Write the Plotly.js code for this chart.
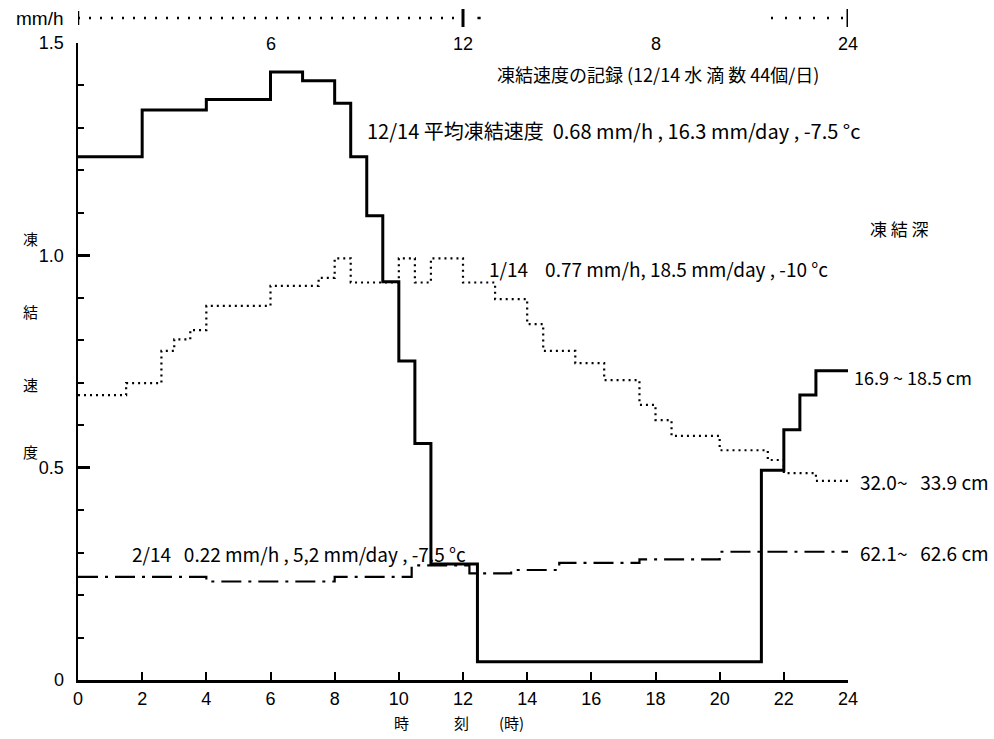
<!DOCTYPE html>
<html>
<head>
<meta charset="utf-8">
<script src="https://cdn.plot.ly/plotly-3.0.1.min.js"></script>
<style>html,body{margin:0;padding:0;background:#fff;}#chart{width:994px;height:739px;}</style>
</head>
<body>
<div id="chart"></div>
<script>
// ---- data (hours, freezing rate mm/h) ----
const solidX = [0, 2, 4, 6, 7, 8, 8.5, 9, 9.5, 10, 10.5, 11, 12.45, 21.3, 22, 22.5, 23, 24];
const solidY = [1.232, 1.342, 1.367, 1.432, 1.411, 1.358, 1.232, 1.093, 0.938, 0.751, 0.557, 0.273, 0.043, 0.494, 0.589, 0.671, 0.728, 0.728];

const dotX = [0, 1.5, 2.6, 3, 3.5, 4, 6, 7.5, 8, 8.5, 10, 10.5, 11, 12, 13, 14, 14.5, 15.5, 16.4, 17.5, 18, 18.5, 20, 21.5, 22, 23, 24];
const dotY = [0.671, 0.699, 0.775, 0.802, 0.824, 0.881, 0.928, 0.947, 0.993, 0.936, 0.993, 0.936, 0.993, 0.936, 0.897, 0.838, 0.775, 0.746, 0.706, 0.648, 0.612, 0.575, 0.541, 0.518, 0.487, 0.469, 0.469];

const dashX = [0, 4, 8, 10.4, 12.2, 13.5, 15, 17.5, 20, 24];
const dashY = [0.243, 0.232, 0.243, 0.27, 0.251, 0.259, 0.276, 0.284, 0.302, 0.302];

const xTickVals = [0, 2, 4, 6, 8, 10, 12, 14, 16, 18, 20, 22, 24];
const xTickText = ['0', '2', '4', '6', '8', '10', '12', '14', '16', '18', '20', '22', '24'];
const yTickVals = [0, 0.5, 1.0, 1.5];
const yTickText = ['0', '0.5', '1.0', '1.5'];
const topTickVals = [6, 12, 18, 24];
const topTickText = ['6', '12', '8', '24'];

const numFont = 'Liberation Sans Narrow, Liberation Sans, Noto Sans CJK JP, sans-serif';
const jpFont = 'Noto Sans CJK JP, sans-serif';

const traces = [
  {x: solidX, y: solidY, mode: 'lines', line: {shape: 'hv', color: '#000', width: 3}, hoverinfo: 'skip'},
  {x: dotX, y: dotY, mode: 'lines', line: {shape: 'hv', color: '#000', width: 2.2, dash: '2px,4px'}, hoverinfo: 'skip'},
  {x: dashX, y: dashY, mode: 'lines', line: {shape: 'hv', color: '#000', width: 2.2, dash: '20px,7px,3px,7px'}, hoverinfo: 'skip'}
];

function pxX(px) { return (px - 78) / 770; }
function pxY(py) { return (680 - py) / 637; }

const ann = [];
function addText(text, px, py, size, xanchor, family) {
  ann.push({text: text, xref: 'paper', yref: 'paper', x: pxX(px), y: pxY(py), xanchor: xanchor || 'left', yanchor: 'middle',
    showarrow: false, font: {size: size, color: '#000', family: family || jpFont}});
}
addText('凍結速度の記録 (12/14 水 滴 数 44個/日)', 495, 74, 18);
addText('12/14 平均凍結速度  0.68 mm/h , 16.3 mm/day , -7.5 °c', 365, 130, 20);
addText('1/14    0.77 mm/h, 18.5 mm/day , -10 °c', 487, 268, 19);
addText('凍 結 深', 868, 228, 17);
addText('16.9 ~ 18.5 cm', 852, 377, 18);
addText('32.0~   33.9 cm', 858, 481, 19);
addText('62.1~   62.6 cm', 858, 552, 19);
addText('2/14   0.22 mm/h , 5,2 mm/day , -7.5 °c', 130, 553, 19);
addText('mm/h', 66, 18, 19, 'right', numFont);
// y-axis title (vertical characters)
const yTitleChars = ['凍', '結', '速', '度'];
const yTitlePos = [238, 311, 384, 451];
yTitleChars.forEach((c, i) => addText(c, 30, yTitlePos[i], 15, 'center'));
// x-axis title
addText('時　　　刻　　(時)', 459, 722, 15, 'center');
// top tick labels
topTickVals.forEach((v, i) => ann.push({text: topTickText[i], xref: 'x', yref: 'paper', x: v, y: pxY(44),
  xanchor: 'center', yanchor: 'middle', showarrow: false, font: {size: 18, color: '#000', family: numFont}}));

const topY = pxY(18);
const shapes = [
  {type: 'line', xref: 'x', yref: 'paper', x0: 0, x1: 12, y0: topY, y1: topY, line: {color: '#000', width: 2.5, dash: '2px,9px'}},
  {type: 'line', xref: 'x', yref: 'paper', x0: 0, x1: 0, y0: pxY(11), y1: pxY(25), line: {color: '#000', width: 2.5}},
  {type: 'line', xref: 'x', yref: 'paper', x0: 12, x1: 12, y0: pxY(9), y1: pxY(27), line: {color: '#000', width: 3}},
  {type: 'line', xref: 'x', yref: 'paper', x0: 12.45, x1: 12.55, y0: topY, y1: topY, line: {color: '#000', width: 2.5}},
  {type: 'line', xref: 'x', yref: 'paper', x0: 21.6, x1: 24, y0: topY, y1: topY, line: {color: '#000', width: 2.5, dash: '2px,12px'}},
  {type: 'line', xref: 'x', yref: 'paper', x0: 24, x1: 24, y0: pxY(9), y1: pxY(27), line: {color: '#000', width: 3}}
];

const layout = {
  width: 994, height: 739,
  margin: {l: 78, r: 146, t: 43, b: 59},
  paper_bgcolor: '#fff', plot_bgcolor: '#fff',
  showlegend: false,
  xaxis: {range: [0, 24], tickvals: xTickVals, ticktext: xTickText, ticks: 'inside', ticklen: 8, tickwidth: 2,
    tickcolor: '#000', showline: true, linewidth: 3, linecolor: '#000', showgrid: false, zeroline: false,
    tickfont: {size: 18, family: numFont, color: '#000'}, fixedrange: true},
  yaxis: {range: [0, 1.5], tickvals: yTickVals, ticktext: yTickText, ticks: 'inside', ticklen: 12, tickwidth: 2.5,
    tickcolor: '#000', showline: true, linewidth: 2.5, linecolor: '#000', showgrid: false, zeroline: false,
    ticklabelstandoff: 8,
    minor: {dtick: 0.1, ticks: 'inside', ticklen: 6, tickwidth: 2, tickcolor: '#000', showgrid: false},
    tickfont: {size: 18, family: numFont, color: '#000'}, fixedrange: true},
  annotations: ann,
  shapes: shapes
};

Plotly.newPlot('chart', traces, layout, {staticPlot: true, displayModeBar: false});
</script>
</body>
</html>
